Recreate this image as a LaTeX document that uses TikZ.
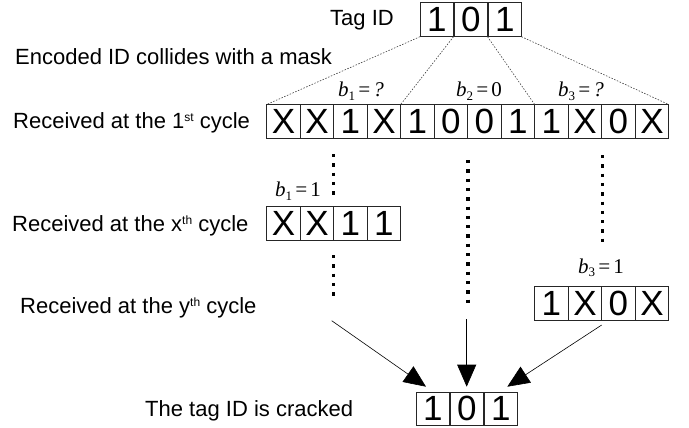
\documentclass[tikz,border=0pt]{standalone}
\usepackage{fontspec}
\setmainfont{Liberation Sans}
\newfontfamily\tms{Liberation Serif}
\usetikzlibrary{arrows.meta}

% small raised ordinal suffix
\newcommand{\ordsup}[1]{\raisebox{7pt}{\fontsize{12}{12}\selectfont #1}}
% bit label b_i = v
\newcommand{\bitlbl}[2]{\itshape b\raisebox{-3.5pt}{\upshape\fontsize{13}{13}\selectfont #1}\kern2pt=\kern2pt#2}

\begin{document}
\begin{tikzpicture}[x=1pt,y=-1pt,
  cell/.style={draw=black!85, line width=0.8pt, minimum width=33.5pt, minimum height=34pt,
    inner sep=0pt, outer sep=0pt, anchor=north west, font=\fontsize{35}{35}\selectfont},
  lbl/.style={anchor=base west, inner sep=0pt, font=\fontsize{22}{26}\selectfont},
  blbl/.style={anchor=base, inner sep=0pt, font=\tms\fontsize{21}{22}\selectfont},
  thin dots/.style={draw=black!75, line width=0.6pt, dash pattern=on 1.5pt off 1.5pt},
  heavy dots/.style={line width=3.3pt, dash pattern=on 3.3pt off 6pt},
  arr/.style={line width=0.6pt, -{Triangle[length=22pt,width=19pt]}}]

\useasboundingbox (0,0) rectangle (689,428);

% text labels on the left
\node[anchor=base, inner sep=0pt, font=\fontsize{22}{26}\selectfont] (tagtxt) at (362,26) {Tag ID};
\node[lbl] (enc) at (15,65) {Encoded ID collides with a mask};
\node[lbl] (cyc1) at (13,128.3) {Received at the 1\ordsup{st} cycle};
\node[lbl] (cycx) at (12,231) {Received at the x\ordsup{th} cycle};
\node[lbl] (cycy) at (20,313.3) {Received at the y\ordsup{th} cycle};
\node[lbl] (done) at (145,416) {The tag ID is cracked};

% tag ID
\foreach \t [count=\i] in {1,0,1}
  \node[cell] (t\i) at ({420+34*(\i-1)},2.7) {\t};

% first cycle
\foreach \t [count=\i] in {X,X,1,X,1,0,0,1,1,X,0,X}
  \node[cell] (a\i) at ({266.7+33.5*(\i-1)},104.5) {\t};

% x-th cycle
\foreach \t [count=\i] in {X,X,1,1}
  \node[cell] (b\i) at ({266.7+33.5*(\i-1)},206.7) {\t};

% y-th cycle
\foreach \t [count=\i] in {1,X,0,X}
  \node[cell] (c\i) at ({534.7+33.5*(\i-1)},286.7) {\t};

% cracked ID
\foreach \t [count=\i] in {1,0,1}
  \node[cell, minimum height=33pt] (f\i) at ({416+34*(\i-1)},392.3) {\t};

% bit labels
\node[blbl] (q1) at (361,96.7) {\bitlbl{1}{?}};
\node[blbl] (q2) at (479,96.7) {\bitlbl{2}{\upshape 0}};
\node[blbl] (q3) at (581,96.7) {\bitlbl{3}{?}};
\node[blbl] (s1) at (298,196.7) {\bitlbl{1}{\upshape 1}};
\node[blbl] (s3) at (601,273.3) {\bitlbl{3}{\upshape 1}};

% fan-out of the tag ID into the encoded sequence
\draw[thin dots] (t1.south west) -- (a1.north west);
\draw[thin dots] (t1.south east) -- (a4.north east);
\draw[thin dots] (t2.south east) -- (a8.north east);
\draw[thin dots] (t3.south east) -- (a12.north east);

% elapsed cycles
\coordinate (d1a) at (333.5,154);   \coordinate (d1b) at (333.5,195);
\coordinate (d2a) at (333.5,255);   \coordinate (d2b) at (333.5,296);
\coordinate (d3a) at (468,160);     \coordinate (d3b) at (468,303);
\coordinate (d4a) at (602.7,155);   \coordinate (d4b) at (602.7,243);
\draw[heavy dots] (d1a) -- (d1b);
\draw[heavy dots] (d2a) -- (d2b);
\draw[heavy dots] (d3a) -- (d3b);
\draw[heavy dots] (d4a) -- (d4b);

% recovered bits
\coordinate (l0) at (331.7,320.7);
\coordinate (m0) at (466.7,319.3);
\coordinate (r0) at (601.7,325);
\coordinate (lt) at (426,386.7);
\coordinate (mt) at (466.7,386.7);
\coordinate (rt) at (507.3,386.7);
\draw[arr] (l0) -- (lt);
\draw[arr] (m0) -- (mt);
\draw[arr] (r0) -- (rt);
\end{tikzpicture}
\end{document}
